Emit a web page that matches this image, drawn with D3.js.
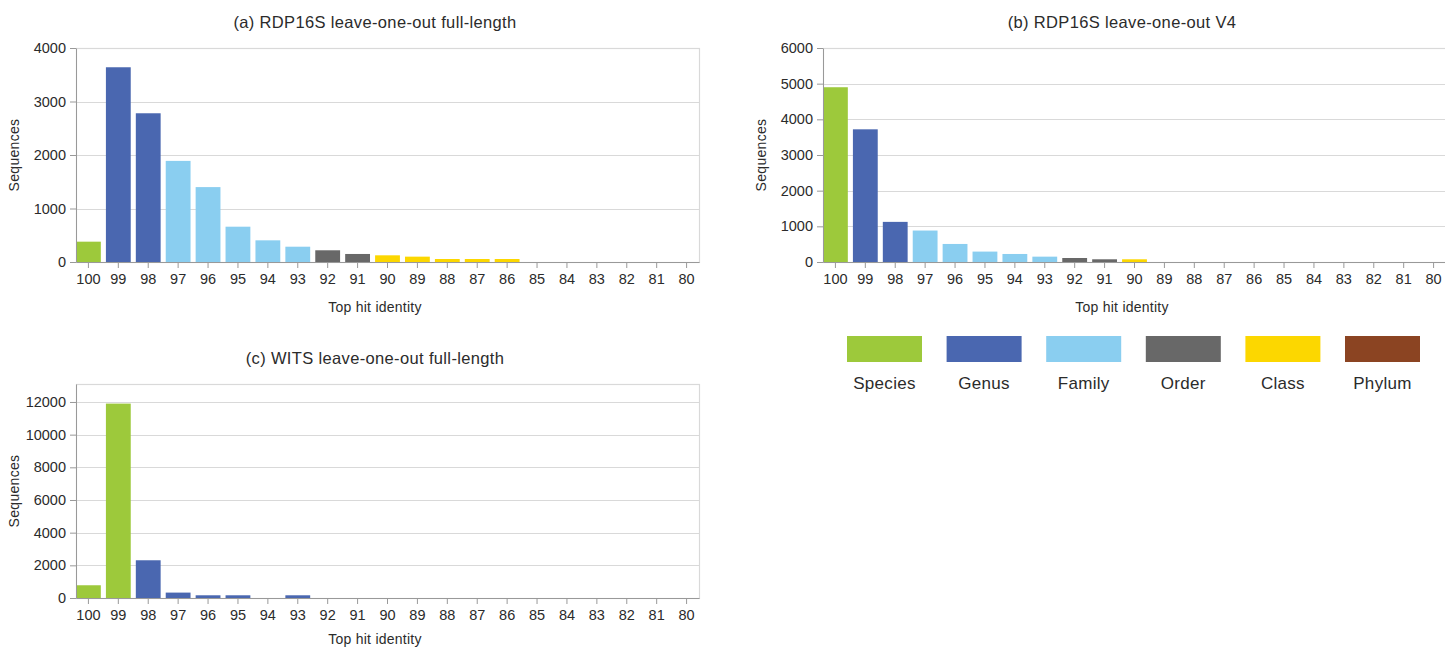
<!DOCTYPE html>
<html>
<head>
<meta charset="utf-8">
<script src="https://cdn.jsdelivr.net/npm/d3@7"></script>
<style>
  html, body { margin: 0; padding: 0; background: #fff; }
  svg { display: block; font-family: "Liberation Sans", Arial, sans-serif; }
</style>
</head>
<body>
<svg id="chart" width="1445" height="649"></svg>
<script>
// Top-hit identity bins, shown from 100% down to 80%
const identities = [100, 99, 98, 97, 96, 95, 94, 93, 92, 91, 90, 89, 88, 87, 86, 85, 84, 83, 82, 81, 80];

// Taxonomic ranks and their colours
const ranks = ["Species", "Genus", "Family", "Order", "Class", "Phylum"];
const rankColors = ["#9dc93b", "#4a67b0", "#8acef0", "#686868", "#fcd700", "#8b4422"];

// (a) RDP16S leave-one-out full-length
const rdpFullCounts = [380, 3640, 2780, 1890, 1400, 660, 405, 286, 219, 150, 125, 100, 56, 56, 56, 0, 0, 0, 0, 0, 0];
const rdpFullRanks = ["Species", "Genus", "Genus", "Family", "Family", "Family", "Family", "Family", "Order", "Order",
                      "Class", "Class", "Class", "Class", "Class", "Phylum", "Phylum", "Phylum", "Phylum", "Phylum", "Phylum"];

// (b) RDP16S leave-one-out V4
const rdpV4Counts = [4900, 3720, 1125, 882, 506, 292, 225, 150, 112, 76, 76, 0, 0, 0, 0, 0, 0, 0, 0, 0, 0];
const rdpV4Ranks = ["Species", "Genus", "Genus", "Family", "Family", "Family", "Family", "Family", "Order", "Order",
                    "Class", "Class", "Class", "Class", "Class", "Phylum", "Phylum", "Phylum", "Phylum", "Phylum", "Phylum"];

// (c) WITS leave-one-out full-length
const witsCounts = [780, 11900, 2310, 331, 166, 166, 0, 166, 0, 0, 0, 0, 0, 0, 0, 0, 0, 0, 0, 0, 0];
const witsRanks = ["Species", "Species", "Genus", "Genus", "Genus", "Genus", "Genus", "Genus", "Family", "Family",
                   "Family", "Order", "Order", "Order", "Class", "Class", "Class", "Phylum", "Phylum", "Phylum", "Phylum"];

// Y-axis tick values per panel
const rdpFullTicks = [0, 1000, 2000, 3000, 4000];
const rdpV4Ticks = [0, 1000, 2000, 3000, 4000, 5000, 6000];
const witsTicks = [0, 2000, 4000, 6000, 8000, 10000, 12000];

const color = d3.scaleOrdinal().domain(ranks).range(rankColors);
const svg = d3.select("#chart");
const textColor = "#2b2b2b";
const gridColor = "#d9d9d9";
const axisColor = "#999";

function drawPanel(opts) {
  const { left, top, width, height, title, counts, rankOf, yMax, yTicks, xLabelOffset } = opts;
  const g = svg.append("g").attr("transform", `translate(${left},${top})`);

  const x = d3.scaleBand().domain(identities).range([0, width]).paddingInner(0.17).paddingOuter(0);
  const y = d3.scaleLinear().domain([0, yMax]).range([height, 0]);

  // titles are centred over the panel including its y-axis labels
  const labelCenter = width / 2 - 12.5;

  // horizontal grid
  g.append("g").selectAll("line").data(yTicks.filter(t => t > 0)).join("line")
    .attr("x1", 0).attr("x2", width)
    .attr("y1", d => Math.round(y(d)) + 0.5).attr("y2", d => Math.round(y(d)) + 0.5)
    .attr("stroke", gridColor).attr("stroke-width", 1.2);

  // frame
  g.append("rect").attr("x", 0.5).attr("y", 0.5).attr("width", width).attr("height", height)
    .attr("fill", "none").attr("stroke", gridColor).attr("stroke-width", 1.2);

  // bars
  const data = identities.map((id, i) => ({ id, value: counts[i], rank: rankOf[i] }));
  g.append("g").selectAll("rect").data(data.filter(d => d.value > 0)).join("rect")
    .attr("x", d => x(d.id))
    .attr("width", x.bandwidth())
    .attr("y", d => y(d.value))
    .attr("height", d => y(0) - y(d.value))
    .attr("fill", d => color(d.rank));

  // y axis
  const ya = g.append("g").call(d3.axisLeft(y).tickValues(yTicks).tickFormat(d3.format("d"))
    .tickSize(6).tickPadding(4).tickSizeOuter(0));
  ya.select(".domain").attr("stroke", axisColor);
  ya.selectAll(".tick line").attr("stroke", axisColor);
  ya.selectAll(".tick text").attr("fill", textColor).attr("font-size", 14.5)
    .attr("font-family", "Liberation Sans, Arial, sans-serif");

  // x axis
  const xa = g.append("g").attr("transform", `translate(0,${height})`)
    .call(d3.axisBottom(x).tickSize(6).tickPadding(6).tickSizeOuter(0));
  xa.select(".domain").attr("stroke", axisColor);
  xa.selectAll(".tick line").attr("stroke", axisColor);
  xa.selectAll(".tick text").attr("fill", textColor).attr("font-size", 14.5)
    .attr("font-family", "Liberation Sans, Arial, sans-serif");

  // titles
  g.append("text").attr("x", labelCenter).attr("y", -20).attr("text-anchor", "middle")
    .attr("fill", textColor).attr("font-size", 16.5).attr("letter-spacing", 0.35).text(title);
  g.append("text").attr("x", labelCenter).attr("y", height + xLabelOffset).attr("text-anchor", "middle")
    .attr("fill", textColor).attr("font-size", 14).attr("letter-spacing", 0.25).text("Top hit identity");
  g.append("text")
    .attr("transform", `translate(${-57},${height / 2}) rotate(-90)`)
    .attr("text-anchor", "middle").attr("fill", textColor).attr("font-size", 14)
    .attr("letter-spacing", 0.3).text("Sequences");
}

drawPanel({ left: 76, top: 48, width: 623, height: 214,
  title: "(a) RDP16S leave-one-out full-length",
  counts: rdpFullCounts, rankOf: rdpFullRanks, yMax: 4000, yTicks: rdpFullTicks, xLabelOffset: 50 });

drawPanel({ left: 823, top: 48, width: 623, height: 214,
  title: "(b) RDP16S leave-one-out V4",
  counts: rdpV4Counts, rankOf: rdpV4Ranks, yMax: 6000, yTicks: rdpV4Ticks, xLabelOffset: 50 });

drawPanel({ left: 76, top: 384, width: 623, height: 214,
  title: "(c) WITS leave-one-out full-length",
  counts: witsCounts, rankOf: witsRanks, yMax: 13100, yTicks: witsTicks, xLabelOffset: 46 });

// legend
const legend = svg.append("g").attr("transform", "translate(847,336)");
const lx = d3.scaleBand().domain(ranks).range([0, 573]).paddingInner(0.247).paddingOuter(0);
const items = legend.selectAll("g").data(ranks).join("g")
  .attr("transform", d => `translate(${lx(d)},0)`);
items.append("rect").attr("width", lx.bandwidth()).attr("height", 26).attr("fill", d => color(d));
items.append("text").attr("x", lx.bandwidth() / 2).attr("y", 53).attr("text-anchor", "middle")
  .attr("fill", textColor).attr("font-size", 17).attr("letter-spacing", 0.3).text(d => d);
</script>
</body>
</html>
